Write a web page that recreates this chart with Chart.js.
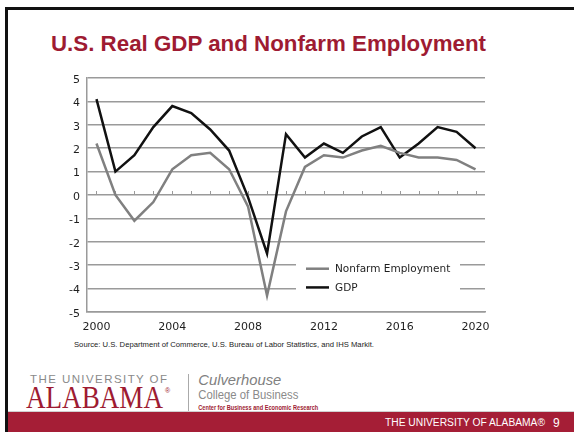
<!DOCTYPE html>
<html>
<head>
<meta charset="utf-8">
<script src="https://cdn.jsdelivr.net/npm/chart.js@4.4.1/dist/chart.umd.min.js"></script>
<style>
  html, body { margin: 0; padding: 0; background: #fff; }
  #slide { position: relative; width: 574px; height: 432px; overflow: hidden; background: #fff; }
  #deco { position: absolute; left: 0; top: 0; }
  #chartBox { position: absolute; left: 0; top: 0; width: 574px; height: 432px; }
</style>
</head>
<body>
<div id="slide">
  <svg id="deco" width="574" height="432" xmlns="http://www.w3.org/2000/svg">
    <!-- slide frame -->
    <rect x="5" y="7" width="569" height="3" fill="#111"/>
    <rect x="5" y="7" width="3" height="425" fill="#111"/>
    <!-- footer band -->
    <rect x="8" y="411" width="566" height="1" fill="#d0d0d0"/>
    <rect x="8" y="412" width="566" height="20" fill="#A51E36"/>
    <text x="385" y="426" font-family="Liberation Sans, Arial, sans-serif" font-size="10" fill="#fff" textLength="160" lengthAdjust="spacingAndGlyphs">THE UNIVERSITY OF ALABAMA®</text>
    <text x="553" y="426.5" font-family="Liberation Sans, Arial, sans-serif" font-size="12" fill="#fff">9</text>

    <!-- title -->
    <text x="51" y="51" font-family="Liberation Sans, Arial, sans-serif" font-size="22" font-weight="bold" fill="#9E1B32" textLength="435" lengthAdjust="spacingAndGlyphs">U.S. Real GDP and Nonfarm Employment</text>

    <!-- source note -->
    <text x="74" y="347" font-family="Liberation Sans, Arial, sans-serif" font-size="7.2" fill="#222" textLength="300" lengthAdjust="spacingAndGlyphs">Source:  U.S. Department of Commerce, U.S. Bureau of Labor Statistics, and IHS Markit.</text>

    <!-- university mark -->
    <text x="30" y="382.5" font-family="Liberation Sans, Arial, sans-serif" font-size="11.5" fill="#8a8a8a" textLength="137" lengthAdjust="spacing">THE UNIVERSITY OF</text>
    <text x="26" y="407.5" font-family="Liberation Serif, Times New Roman, serif" font-size="31" fill="#9E1B32" textLength="137" lengthAdjust="spacingAndGlyphs">ALABAMA</text>
    <text x="165" y="393" font-family="Liberation Sans, Arial, sans-serif" font-size="7" fill="#9E1B32">®</text>
    <rect x="188" y="374" width="1" height="37" fill="#aaa"/>
    <text x="198.3" y="385.3" font-family="Liberation Sans, Arial, sans-serif" font-size="15" font-style="italic" fill="#808080" textLength="83" lengthAdjust="spacingAndGlyphs">Culverhouse</text>
    <text x="198.3" y="399.3" font-family="Liberation Sans, Arial, sans-serif" font-size="12" fill="#8a8a8a" textLength="100" lengthAdjust="spacingAndGlyphs">College of Business</text>
    <text x="198.3" y="409.5" font-family="Liberation Sans, Arial, sans-serif" font-size="7.5" font-weight="bold" fill="#9E1B32" textLength="120" lengthAdjust="spacingAndGlyphs">Center for Business and Economic Research</text>
  </svg>
  <div id="chartBox"><canvas id="chart" width="574" height="432"></canvas></div>
</div>

<script>
// Annual growth, percent
const years = ['2000', '2001', '2002', '2003', '2004', '2005', '2006', '2007', '2008', '2009', '2010',
               '2011', '2012', '2013', '2014', '2015', '2016', '2017', '2018', '2019', '2020'];
const nonfarmEmployment = [2.2, 0.0, -1.1, -0.3, 1.1, 1.7, 1.8, 1.1, -0.5, -4.3, -0.7,
                           1.2, 1.7, 1.6, 1.9, 2.1, 1.8, 1.6, 1.6, 1.5, 1.1];
const gdp = [4.1, 1.0, 1.7, 2.9, 3.8, 3.5, 2.8, 1.9, -0.1, -2.5, 2.6,
             1.6, 2.2, 1.8, 2.5, 2.9, 1.6, 2.2, 2.9, 2.7, 2.0];
const labelledYears = ['2000', '2004', '2008', '2012', '2016', '2020'];
const yMin = -5;
const yMax = 5;
const yStep = 1;

const GRID = '#9a9a9a';
const INK = '#1e1e1e';

// white panel with the series key, sitting over the lower grid lines
const keyPanel = {
  id: 'keyPanel',
  beforeDatasetsDraw(chart) {
    const { ctx, scales: { y } } = chart;
    const top = y.getPixelForValue(-2.45);
    const bottom = y.getPixelForValue(-4.55);
    ctx.save();
    ctx.fillStyle = '#fff';
    ctx.fillRect(296, top, 164, bottom - top);
    const rows = [-3.15, -3.95];
    chart.data.datasets.forEach((ds, i) => {
      const py = y.getPixelForValue(rows[i]);
      ctx.strokeStyle = ds.borderColor;
      ctx.lineWidth = 2.5;
      ctx.beginPath();
      ctx.moveTo(306, py);
      ctx.lineTo(329, py);
      ctx.stroke();
      ctx.fillStyle = INK;
      ctx.font = '10.5px "DejaVu Sans"';
      ctx.textBaseline = 'middle';
      ctx.textAlign = 'left';
      ctx.fillText(ds.label, 335, py + 0.5);
    });
    ctx.restore();
  }
};

// small year ticks standing on the zero line
const zeroTicks = {
  id: 'zeroTicks',
  beforeDatasetsDraw(chart) {
    const { ctx, scales: { x, y } } = chart;
    const py = Math.round(y.getPixelForValue(0));
    ctx.save();
    ctx.strokeStyle = GRID;
    ctx.lineWidth = 1;
    for (let i = 0; i < years.length; i++) {
      const px = Math.round(x.getPixelForValue(i)) + 0.5;
      ctx.beginPath();
      ctx.moveTo(px, py);
      ctx.lineTo(px, py - 4);
      ctx.stroke();
    }
    ctx.restore();
  }
};

Chart.defaults.font.family = '"DejaVu Sans", sans-serif';
Chart.defaults.color = INK;

new Chart(document.getElementById('chart'), {
  type: 'line',
  data: {
    labels: years,
    datasets: [
      { label: 'Nonfarm Employment', data: nonfarmEmployment, borderColor: '#808080', borderWidth: 2.5,
        pointRadius: 0, tension: 0, fill: false },
      { label: 'GDP', data: gdp, borderColor: '#111111', borderWidth: 2.5,
        pointRadius: 0, tension: 0, fill: false }
    ]
  },
  options: {
    responsive: false,
    animation: false,
    layout: { padding: { left: 50, right: 89, top: 78, bottom: 90 } },
    plugins: { legend: { display: false }, tooltip: { enabled: false } },
    scales: {
      x: {
        type: 'category',
        offset: true,
        grid: { display: false, drawTicks: false },
        border: { display: true, color: GRID, width: 1.5 },
        ticks: {
          autoSkip: false, maxRotation: 0, padding: 9,
          font: { size: 11 }, color: INK,
          callback(value) {
            const lab = this.getLabelForValue(value);
            return labelledYears.includes(lab) ? lab : '';
          }
        },
        afterFit(scale) { scale.height = 30; }
      },
      y: {
        min: yMin, max: yMax,
        grid: { color: GRID, lineWidth: 1.5, drawTicks: false },
        border: { display: true, color: GRID, width: 1.5 },
        ticks: { stepSize: yStep, padding: 7, labelOffset: 2, font: { size: 11 }, color: INK },
        afterFit(scale) { scale.width = 37; }
      }
    }
  },
  plugins: [zeroTicks, keyPanel]
});
</script>
</body>
</html>
